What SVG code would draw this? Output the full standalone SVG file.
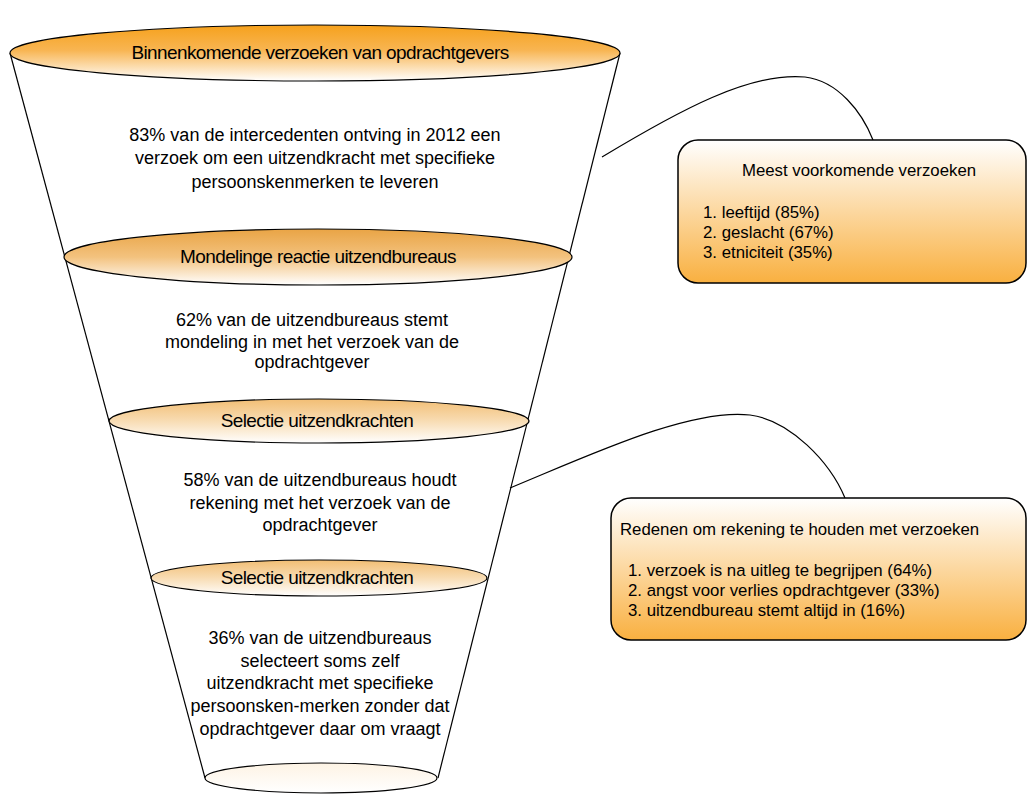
<svg xmlns="http://www.w3.org/2000/svg" width="1027" height="796" viewBox="0 0 1027 796">
<defs>
<linearGradient id="gTop" x1="0" y1="0" x2="0" y2="1">
<stop offset="0" stop-color="#F6A11C"/>
<stop offset="0.45" stop-color="#F8B552"/>
<stop offset="1" stop-color="#FFFFFF"/>
</linearGradient>
<linearGradient id="gMid" x1="0" y1="0" x2="0" y2="1">
<stop offset="0" stop-color="#E9A445"/>
<stop offset="0.5" stop-color="#F3C27E"/>
<stop offset="1" stop-color="#FFFFFF"/>
</linearGradient>
<linearGradient id="gLow" x1="0" y1="0" x2="0" y2="1">
<stop offset="0" stop-color="#F2BE74"/>
<stop offset="0.5" stop-color="#F8DCB3"/>
<stop offset="1" stop-color="#FFFFFF"/>
</linearGradient>
<linearGradient id="gBot" x1="0" y1="0" x2="0" y2="1">
<stop offset="0" stop-color="#FDF3E4"/>
<stop offset="1" stop-color="#FFFFFF"/>
</linearGradient>
<linearGradient id="gBox" x1="0" y1="0" x2="0" y2="1">
<stop offset="0" stop-color="#FFFFFF"/>
<stop offset="1" stop-color="#F9B040"/>
</linearGradient>
<style>
.edge{fill:none;stroke:#000;stroke-width:1.2}
.ell{stroke:#000;stroke-width:1.2}
.box{fill:url(#gBox);stroke:#000;stroke-width:1.5}
.h{font-family:"Liberation Sans",Arial,sans-serif;font-size:19px;fill:#000;text-anchor:middle;letter-spacing:-0.6px}
.t{font-family:"Liberation Sans",Arial,sans-serif;font-size:18px;fill:#000;text-anchor:middle}
.b{font-family:"Liberation Sans",Arial,sans-serif;font-size:16.8px;fill:#000;text-anchor:middle}
.l{font-family:"Liberation Sans",Arial,sans-serif;font-size:16.8px;fill:#000}
</style>
</defs>
<rect width="1027" height="796" fill="#fff"/>

<g id="funnel-body">
<polygon points="10,53 620,53 438,778 205,778" fill="#fff"/>
<line class="edge" x1="10" y1="53" x2="205" y2="778"/>
<line class="edge" x1="620" y1="53" x2="438" y2="778"/>
</g>

<g id="connectors">
<path class="edge" d="M602,157 C680,110 750,72 805,77 C838,81 862,112 873,140"/>
<path class="edge" d="M510,488 C590,455 690,408 750,415 C790,420 830,462 845,498"/>
</g>

<g id="stage1">
<ellipse class="ell" cx="315" cy="53" rx="305" ry="28" fill="url(#gTop)"/>
<text class="h" x="320" y="59">Binnenkomende verzoeken van opdrachtgevers</text>
</g>
<g id="text1">
<text class="t" x="315" y="141">83% van de intercedenten ontving in 2012 een</text>
<text class="t" x="315" y="164">verzoek om een uitzendkracht met specifieke</text>
<text class="t" x="315" y="188">persoonskenmerken te leveren</text>
</g>

<g id="stage2">
<ellipse class="ell" cx="318" cy="257" rx="254" ry="28" fill="url(#gMid)"/>
<text class="h" x="318" y="263">Mondelinge reactie uitzendbureaus</text>
</g>
<g id="text2">
<text class="t" x="312" y="326">62% van de uitzendbureaus stemt</text>
<text class="t" x="312" y="348">mondeling in met het verzoek van de</text>
<text class="t" x="312" y="368">opdrachtgever</text>
</g>

<g id="stage3">
<ellipse class="ell" cx="319" cy="421" rx="210" ry="22" fill="url(#gLow)"/>
<text class="h" x="317" y="427">Selectie uitzendkrachten</text>
</g>
<g id="text3">
<text class="t" x="320" y="486">58% van de uitzendbureaus houdt</text>
<text class="t" x="320" y="509">rekening met het verzoek van de</text>
<text class="t" x="320" y="531">opdrachtgever</text>
</g>

<g id="stage4">
<ellipse class="ell" cx="319" cy="578" rx="168" ry="18" fill="url(#gLow)"/>
<text class="h" x="317" y="584">Selectie uitzendkrachten</text>
</g>
<g id="text4">
<text class="t" x="320" y="644">36% van de uitzendbureaus</text>
<text class="t" x="320" y="667">selecteert soms zelf</text>
<text class="t" x="320" y="689">uitzendkracht met specifieke</text>
<text class="t" x="320" y="712">persoonsken-merken zonder dat</text>
<text class="t" x="320" y="735">opdrachtgever daar om vraagt</text>
</g>

<g id="stage5">
<ellipse class="ell" cx="321" cy="778" rx="116" ry="15" fill="url(#gBot)"/>
</g>

<g id="callout1">
<rect class="box" x="678" y="140" width="348" height="143" rx="20" ry="20"/>
<text class="b" x="859" y="176">Meest voorkomende verzoeken</text>
<text class="l" x="703" y="218">1. leeftijd (85%)</text>
<text class="l" x="703" y="238">2. geslacht (67%)</text>
<text class="l" x="703" y="258">3. etniciteit (35%)</text>
</g>

<g id="callout2">
<rect class="box" x="611" y="498" width="415" height="142" rx="20" ry="20"/>
<text class="l" x="620" y="535">Redenen om rekening te houden met verzoeken</text>
<text class="l" x="628" y="576">1. verzoek is na uitleg te begrijpen (64%)</text>
<text class="l" x="628" y="596">2. angst voor verlies opdrachtgever (33%)</text>
<text class="l" x="628" y="616">3. uitzendbureau stemt altijd in (16%)</text>
</g>
</svg>
